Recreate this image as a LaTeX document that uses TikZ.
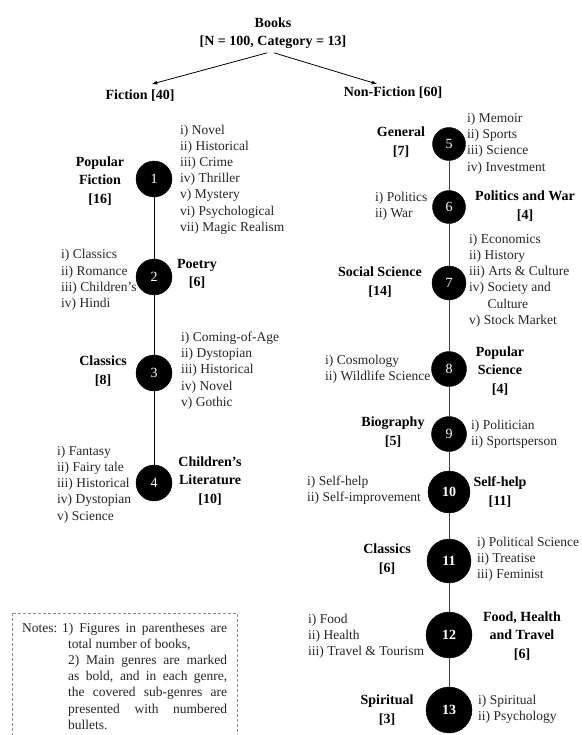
\documentclass[tikz,border=0pt]{standalone}
\usepackage{fontspec}
\setmainfont{Liberation Serif}
\usepackage{tikz}
\usetikzlibrary{shapes.geometric, arrows}
\usetikzlibrary{positioning}

\begin{document}
\begin{tikzpicture}[x=1pt, y=-1pt,
  genre/.style={inner sep=0pt, align=center, font=\fontsize{14}{18.5}\selectfont\bfseries},
  sub/.style={inner sep=0pt, align=left, text=black!85, font=\fontsize{13.5}{16.2}\selectfont},
  dot/.style={draw, circle, fill=black, text=white, inner sep=0pt, font=\fontsize{14}{14}\selectfont},
  bigdot/.style={dot, font=\fontsize{14}{14}\selectfont\bfseries},
  arr/.style={-latex, thick}]

  \useasboundingbox (0,0) rectangle (581,735);

  % top of the tree
  \node (books) [genre] at (273,33) {Books\\{}[N = 100, Category = 13]};
  \node (fic) [genre] at (140,96) {Fiction [40]};
  \node (nonfic) [genre] at (393,93) {Non-Fiction [60]};
  \coordinate (ftip) at (152,84);
  \coordinate (ntip) at (377,84);
  \draw[arr] ([xshift=-6pt,yshift=-4pt]books.south) -- (ftip);
  \draw[arr] ([xshift=1pt,yshift=-4pt]books.south) -- (ntip);

  % fiction
  \node (c1) [dot, minimum size=36pt] at (154,179) {1};
  \node (c2) [dot, minimum size=36pt] at (154,277) {2};
  \node (c3) [dot, minimum size=36pt] at (154,373) {3};
  \node (c4) [dot, minimum size=36pt] at (154,483) {4};
  \draw (c1)--(c2)--(c3)--(c4);

  \node (g1) [genre] at (100,181) {Popular\\Fiction\\{}[16]};
  \node (g2) [genre] at (197,274) {Poetry\\{}[6]};
  \node (g3) [genre] at (103,371) {Classics\\{}[8]};
  \node (g4) [genre] at (210,481) {Children’s\\Literature\\{}[10]};

  \node (s1) [sub, anchor=west] at (180,179.5) {i) Novel\\ii) Historical\\iii) Crime\\iv) Thriller\\v) Mystery\\vi) Psychological\\vii) Magic Realism};
  \node (s2) [sub, anchor=west] at (61,280) {i) Classics\\ii) Romance\\iii) Children’s\\iv) Hindi};
  \node (s3) [sub, anchor=west] at (181,370.5) {i) Coming-of-Age\\ii) Dystopian\\iii) Historical\\iv) Novel\\v) Gothic};
  \node (s4) [sub, anchor=west] at (57,484.5) {i) Fantasy\\ii) Fairy tale\\iii) Historical\\iv) Dystopian\\v) Science};

  % non-fiction
  \node (c5) [dot, minimum size=33pt] at (449,144) {5};
  \node (c6) [dot, minimum size=33pt] at (449,207) {6};
  \node (c7) [dot, minimum size=34pt] at (449,283) {7};
  \node (c8) [dot, minimum size=35pt] at (449,369) {8};
  \node (c9) [dot, minimum size=35pt] at (449,434) {9};
  \node (c10) [bigdot, minimum size=42pt] at (449,492) {10};
  \node (c11) [bigdot, minimum size=44pt] at (449,561) {11};
  \node (c12) [bigdot, minimum size=46pt] at (449,635) {12};
  \node (c13) [bigdot, minimum size=46pt] at (449,710) {13};
  \draw[black!75] (c5)--(c6)--(c7)--(c8)--(c9)--(c10)--(c11)--(c12)--(c13);

  \node (g5) [genre] at (401,142) {General\\{}[7]};
  \node (g6) [genre] at (525,206) {Politics and War\\{}[4]};
  \node (g7) [genre] at (380,282) {Social Science\\{}[14]};
  \node (g8) [genre] at (500,371) {Popular\\Science\\{}[4]};
  \node (g9) [genre] at (393,432) {Biography\\{}[5]};
  \node (g10) [genre] at (500,492) {Self-help\\{}[11]};
  \node (g11) [genre] at (387,559) {Classics\\{}[6]};
  \node (g12) [genre] at (522,636) {Food, Health\\and Travel\\{}[6]};
  \node (g13) [genre] at (387,710) {Spiritual\\{}[3]};

  \node (s5) [sub, anchor=west] at (467,143.5) {i) Memoir\\ii) Sports\\iii) Science\\iv) Investment};
  \node (s6) [sub, anchor=west] at (375,206) {i) Politics\\ii) War};
  \node (s7) [sub, anchor=west] at (469,280.5) {i) Economics\\ii) History\\iii) Arts \& Culture\\iv) Society and\\\phantom{iv) }Culture\\v) Stock Market};
  \node (s8) [sub, anchor=west] at (325,369.5) {i) Cosmology\\ii) Wildlife Science};
  \node (s9) [sub, anchor=west] at (471,434.5) {i) Politician\\ii) Sportsperson};
  \node (s10) [sub, anchor=west] at (307,490) {i) Self-help\\ii) Self-improvement};
  \node (s11) [sub, anchor=west] at (477,559) {i) Political Science\\ii) Treatise\\iii) Feminist};
  \node (s12) [sub, anchor=west] at (308,636) {i) Food\\ii) Health\\iii) Travel \& Tourism};
  \node (s13) [sub, anchor=west] at (478,709) {i) Spiritual\\ii) Psychology};

  % notes
  \draw[densely dashed, black!45] (12,613) rectangle (237,745);
  \node (notelabel) [anchor=base west, inner sep=0pt, text=black!85,
    font=\fontsize{13.5}{16.2}\selectfont] at (22,632) {Notes:};
  \node (notetext) [anchor=north west, inner sep=0pt, text width=159pt, align=justify, text=black!85,
    font=\fontsize{13.5}{16.2}\selectfont] at (68,622.5)
    {\hspace*{-6pt}1) Figures in parentheses are\linebreak total number of books,\par
     2) Main genres are marked\linebreak as bold, and in each genre,\linebreak the covered sub-genres are\linebreak presented with numbered\linebreak bullets.};
\end{tikzpicture}
\end{document}
